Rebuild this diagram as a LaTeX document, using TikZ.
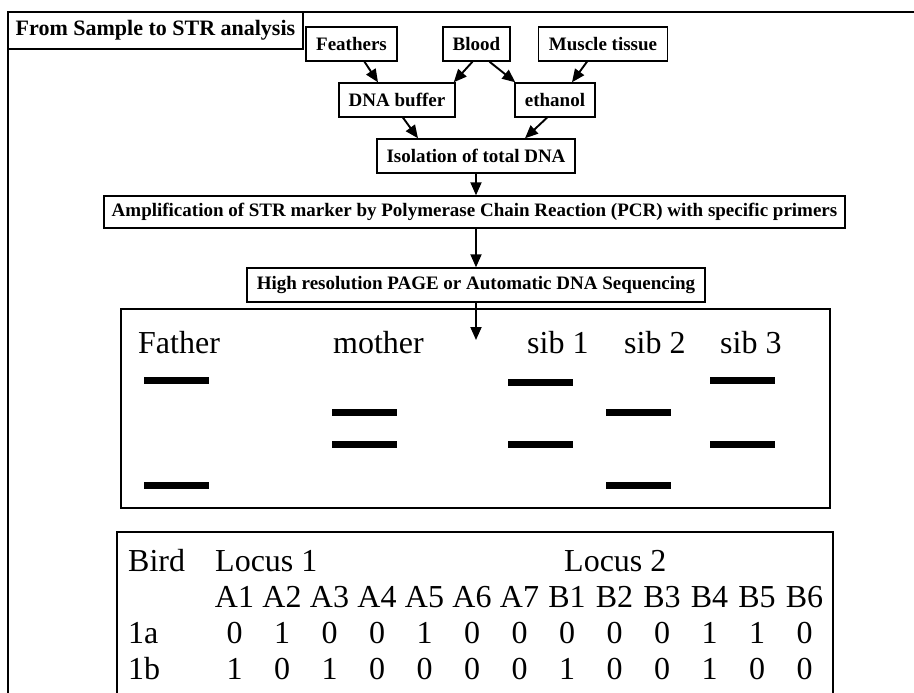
\documentclass[tikz,border=0pt]{standalone}
\usepackage{fontspec}
\setmainfont{Liberation Serif}
\usetikzlibrary{arrows.meta}
\begin{document}
\begin{tikzpicture}[x=1pt,y=-1pt,
  stepbox/.style={draw, line width=1.4pt, inner sep=0pt, minimum height=34pt,
    font=\fontsize{19}{21}\selectfont\bfseries},
  arr/.style={line width=1.9pt, -{Triangle[length=13pt,width=11pt]}},
  panel/.style={draw, line width=1.6pt, inner sep=0pt},
  band/.style={fill=black, inner sep=0pt, minimum width=65pt, minimum height=7pt},
  lbl/.style={anchor=base west, inner sep=0pt, font=\fontsize{32}{34}\selectfont},
  cell/.style={anchor=base, inner sep=0pt, font=\fontsize{32}{34}\selectfont}]
\useasboundingbox (0,0) rectangle (914,693);
\clip (0,0) rectangle (914,693);
\fill[white] (0,0) rectangle (914,693);

% outer frame, open to the right and bottom
\draw[line width=1.6pt] (8,720) -- (8,12) -- (940,12);

% title tab
\node[stepbox, minimum width=295pt, minimum height=37pt,
  font=\fontsize{22}{24}\selectfont\bfseries] (title) at (155.5,30.5) {From Sample to STR analysis};

% sample sources and preservation
\node[stepbox, minimum width=91pt]  (feathers) at (351.5,44) {Feathers};
\node[stepbox, minimum width=67pt]  (blood)    at (476.5,44) {Blood};
\node[stepbox, minimum width=129pt] (muscle)   at (603,44)   {Muscle tissue};
\node[stepbox, minimum width=116pt] (dnabuf)   at (397,100)  {DNA buffer};
\node[stepbox, minimum width=80pt]  (ethanol)  at (555,100)  {ethanol};

% processing steps
\node[stepbox, minimum width=198pt] (iso)  at (476,156)   {Isolation of total DNA};
\node[stepbox, minimum width=741pt, minimum height=32pt] (amp) at (474.5,212)
  {Amplification of STR marker by Polymerase Chain Reaction (PCR) with specific primers};
\node[stepbox, minimum width=458pt] (page) at (476,285)   {High resolution PAGE or Automatic DNA Sequencing};

% connectors
\draw[arr] ([xshift=13pt]feathers.south) -- ([xshift=-19pt]dnabuf.north);
\draw[arr] ([xshift=-4pt]blood.south) -- ([xshift=-2pt]dnabuf.north east);
\draw[arr] ([xshift=13pt]blood.south) -- ([xshift=1pt]ethanol.north west);
\draw[arr] ([xshift=-16pt]muscle.south) -- ([xshift=17pt]ethanol.north);
\draw[arr] ([xshift=6pt]dnabuf.south) -- ([xshift=-58pt]iso.north);
\draw[arr] ([xshift=-8pt]ethanol.south) -- ([xshift=49pt]iso.north);
\draw[arr] (iso.south) -- (iso.south |- amp.north);
\draw[arr] (page.south |- amp.south) -- (page.north);

% gel panel
\node[panel, minimum width=709pt, minimum height=199pt] (gel) at (475.5,408.5) {};
\coordinate (gelin) at (476,340);
\draw[arr] (page.south) -- (gelin);

\node[lbl] (father) at (138,353) {Father};
\node[lbl] (mother) at (333,353) {mother};
\node[lbl] (sib1)   at (527,353) {sib 1};
\node[lbl] (sib2)   at (624,353) {sib 2};
\node[lbl] (sib3)   at (720,353) {sib 3};

\node[band] (f1) at (176.5,380) {};
\node[band] (f2) at (176.5,485) {};
\node[band] (m1) at (364.5,412) {};
\node[band] (m2) at (364.5,444) {};
\node[band] (s1a) at (540.5,382) {};
\node[band] (s1b) at (540.5,444) {};
\node[band] (s2a) at (638,412) {};
\node[band] (s2b) at (638,485) {};
\node[band] (s3a) at (742.5,380) {};
\node[band] (s3b) at (742.5,444) {};

% allele table
\node[panel, minimum width=716pt, minimum height=220pt] (tab) at (475,642) {};
\node[lbl] (bird)   at (128,571) {Bird};
\node[lbl] (locA)   at (215,571) {Locus 1};
\node[lbl] (locB)   at (564,571) {Locus 2};
\foreach \lab [count=\i from 0] in {A1,A2,A3,A4,A5,A6,A7,B1,B2,B3,B4,B5,B6}
  \node[cell] (al\i) at ({234.5+47.5*\i},607) {\lab};
\node[lbl] (rowa) at (128,643) {1a};
\node[lbl] (rowb) at (128,679) {1b};
\foreach \d [count=\i from 0] in {0,1,0,0,1,0,0,0,0,0,1,1,0}
  \node[cell] (da\i) at ({234.5+47.5*\i},643) {\d};
\foreach \d [count=\i from 0] in {1,0,1,0,0,0,0,1,0,0,1,0,0}
  \node[cell] (db\i) at ({234.5+47.5*\i},679) {\d};
\end{tikzpicture}
\end{document}
